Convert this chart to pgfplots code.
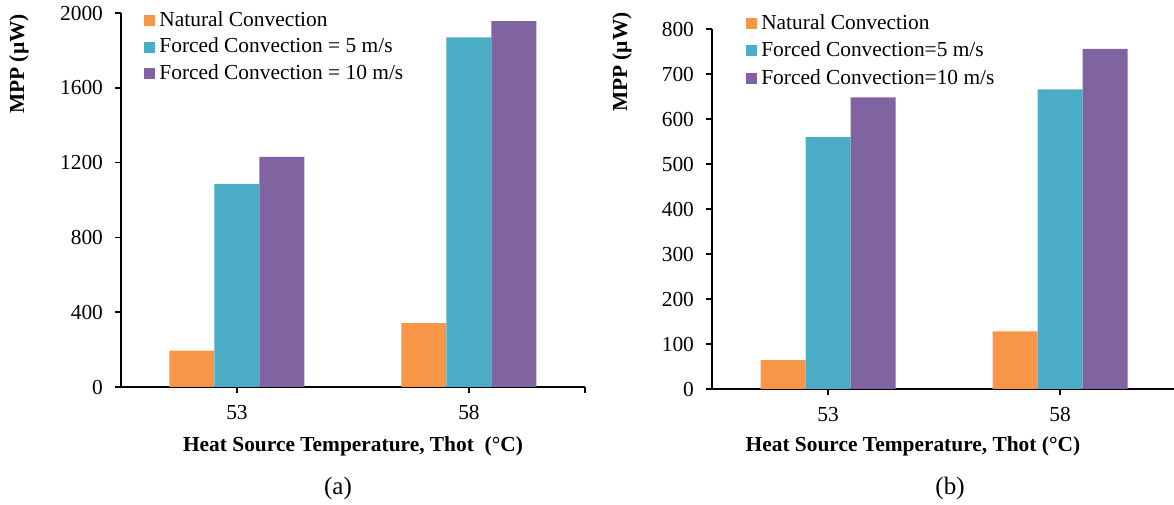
\documentclass[border=0pt]{standalone}
\usepackage{fontspec}
\setmainfont{Liberation Serif}
\usepackage{pgfplots}
\pgfplotsset{compat=1.18}
\definecolor{natorange}{HTML}{F79646}
\definecolor{fcblue}{HTML}{4BACC6}
\definecolor{fcpurple}{HTML}{8064A2}

\pgfplotsset{
  mppbar/.style={
    scale only axis, width=232pt,
    ybar=0pt, bar width=22.5pt,
    xmin=0, xmax=2, ymin=0,
    xtick={0.5,1.5,2}, xticklabels={53,58,{}},
    axis x line=bottom, axis y line=left,
    axis line style={line width=0.8pt,-},
    tick style={black,line width=0.8pt},
    tick align=outside, major tick length=3pt,
    tick label style={font=\fontsize{10.7}{13}\selectfont},
    xticklabel style={yshift=-2.4pt},
    yticklabel style={xshift=-2.5pt},
    label style={font=\bfseries\fontsize{10.7}{13}\selectfont},
    legend cell align=left,
    legend style={draw=none, fill=none, font=\fontsize{10.7}{13}\selectfont,
      anchor=north west, inner sep=0pt},
    legend image code/.code={\fill[##1,draw=none] (0pt,-2.75pt) rectangle (5.5pt,2.75pt);},
  }
}

\begin{document}
\begin{tikzpicture}
\useasboundingbox (0,0) rectangle (587pt,252pt);

% (a)
\begin{axis}[mppbar, at={(60.5pt,58.5pt)}, anchor=south west,
  height=187pt, ymax=2000, ytick={0,400,...,2000},
  yticklabels={0,400,800,1200,1600,2000},
  ylabel={MPP (µW)},
  ylabel style={at={(axis description cs:-0.22,0.864)}, anchor=center},
  xlabel={Heat Source Temperature, Thot\ \ (°C)},
  xlabel style={at={(axis description cs:0.5,-0.158)}, anchor=center},
  legend style={at={(axis description cs:0.0496,1.015)}, row sep=0.25pt}]
\addplot[fill=natorange, draw=none] coordinates {(0.5,194) (1.5,342)};
\addplot[fill=fcblue, draw=none] coordinates {(0.5,1086) (1.5,1870)};
\addplot[fill=fcpurple, draw=none] coordinates {(0.5,1230) (1.5,1956)};
\legend{Natural Convection, Forced Convection = 5 m/s, Forced Convection = 10 m/s}
\end{axis}

% (b)
\begin{axis}[mppbar, at={(356pt,57.5pt)}, anchor=south west,
  height=180pt, ymax=800, ytick={0,100,...,800},
  yticklabels={0,100,200,300,400,500,600,700,800},
  ylabel={MPP (µW)},
  ylabel style={at={(axis description cs:-0.194,0.908)}, anchor=center},
  xlabel={Heat Source Temperature, Thot (°C)},
  xlabel style={at={(axis description cs:0.433,-0.158)}, anchor=center},
  legend style={at={(axis description cs:0.073,1.052)}, row sep=0.75pt}]
\addplot[fill=natorange, draw=none] coordinates {(0.5,64) (1.5,128)};
\addplot[fill=fcblue, draw=none] coordinates {(0.5,560) (1.5,666)};
\addplot[fill=fcpurple, draw=none] coordinates {(0.5,648) (1.5,756)};
\legend{Natural Convection, Forced Convection=5 m/s, Forced Convection=10 m/s}
\end{axis}

\node[font=\fontsize{12.5}{15}\selectfont] at (169pt,8pt) {(a)};
\node[font=\fontsize{12.5}{15}\selectfont] at (475pt,8pt) {(b)};
\end{tikzpicture}
\end{document}
